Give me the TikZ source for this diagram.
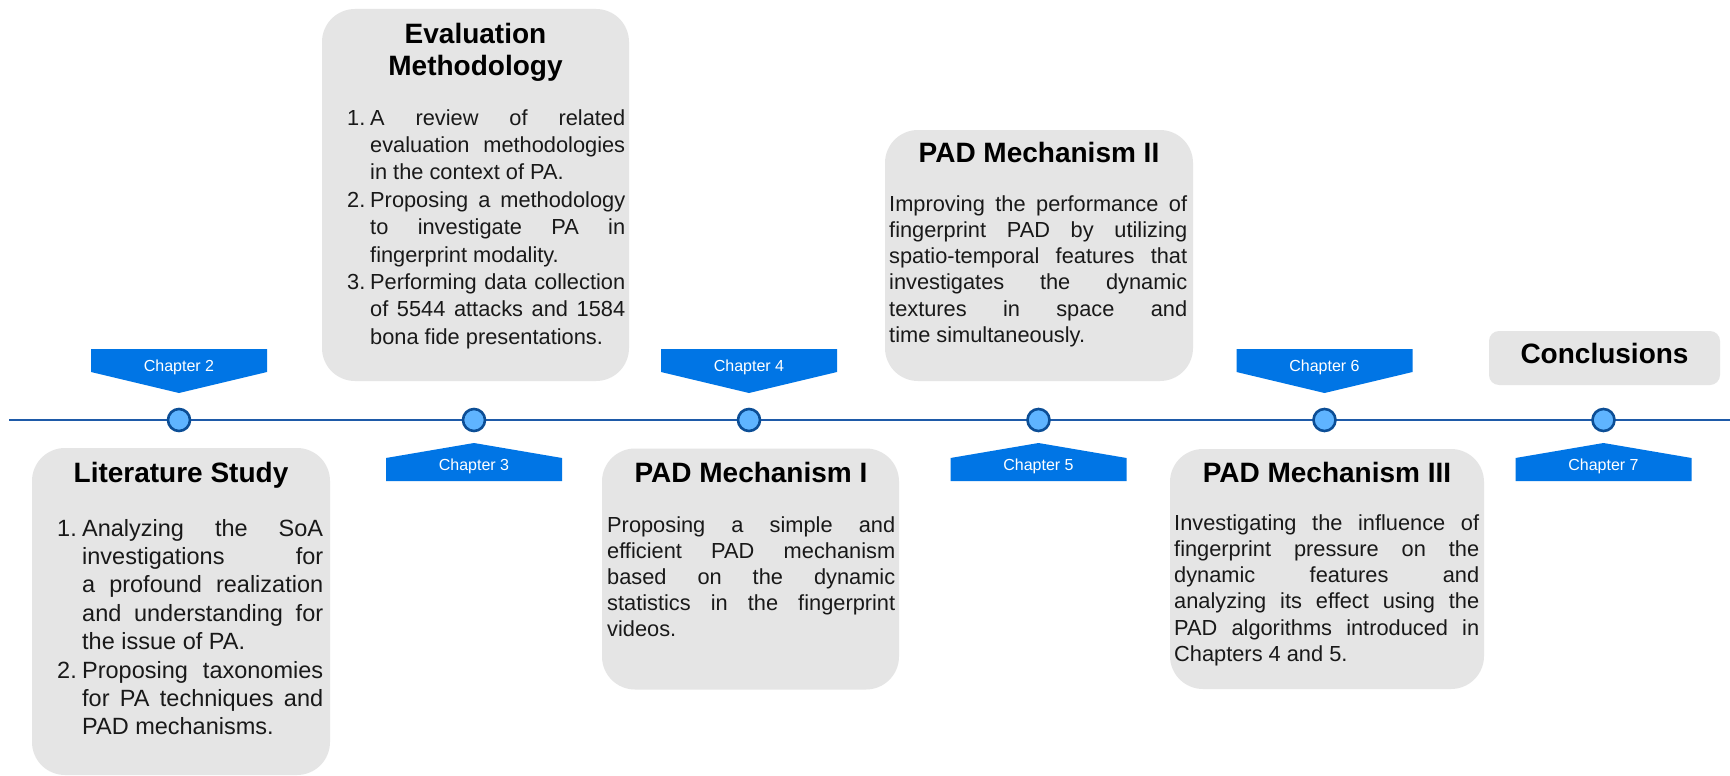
\documentclass[tikz,border=0pt]{standalone}
\usepackage{fontspec}
\setmainfont{Liberation Sans}

\definecolor{cardgray}{RGB}{229,229,229}
\definecolor{tagblue}{RGB}{0,117,229}
\definecolor{dotfill}{RGB}{95,180,255}
\definecolor{dotedge}{RGB}{12,78,150}
\definecolor{axisblue}{RGB}{30,90,168}
\definecolor{bodytext}{RGB}{25,25,25}

% text helpers
\newcommand\bodysize[2]{\fontsize{#1}{#2}\selectfont}
\newcommand\justsetup{\tolerance=10000\hbadness=10000\hyphenpenalty=10000\exhyphenpenalty=10000\frenchspacing\parindent=0pt\parskip=0pt}
\newcommand\itemlabel[2]{\noindent\llap{\makebox[#1][l]{#2}}}

\tikzset{
  card/.style={fill=cardgray, draw=none, rounded corners=33pt, inner sep=0pt},
  smallcard/.style={card, rounded corners=10pt},
  heading/.style={font=\bfseries\fontsize{28}{32}\selectfont, text=black, inner sep=0pt, anchor=base},
  body/.style={inner sep=0pt, anchor=base west, text=bodytext},
  dot/.style={circle, fill=dotfill, draw=dotedge, line width=2.6pt, minimum size=22pt, inner sep=0pt},
  taglabel/.style={text=white, font=\fontsize{16}{19}\selectfont, inner sep=0pt, anchor=base},
  axis/.style={draw=axisblue, line width=2pt},
  downtag/.pic={
    \fill[tagblue] (-88,-71) -- (88,-71) -- (88,-48) -- (0,-27) -- (-88,-48) -- cycle;
    \node[taglabel] (-text) at (0,-49) {#1};
  },
  uptag/.pic={
    \fill[tagblue] (0,23) -- (88,38) -- (88,61) -- (-88,61) -- (-88,38) -- cycle;
    \node[taglabel] (-text) at (0,50) {#1};
  },
}

\begin{document}
\begin{tikzpicture}[x=1pt, y=-1pt]
\useasboundingbox (0,0) rectangle (1730,776);
\fill[white] (0,0) rectangle (1730,776);

% cards
\node[card, minimum width=298pt, minimum height=327pt] (lit) at (181,611.5) {};
\node[card, minimum width=307pt, minimum height=372pt] (eval) at (475.5,195) {};
\node[card, minimum width=297pt, minimum height=241pt] (pad1) at (750.5,569) {};
\node[card, minimum width=308pt, minimum height=251pt] (pad2) at (1039,255.5) {};
\node[card, minimum width=314pt, minimum height=240pt] (pad3) at (1327,569) {};
\node[smallcard, minimum width=231pt, minimum height=54pt] (concl) at (1604.5,358) {};

% timeline
\coordinate (axis-start) at (9,420);
\coordinate (axis-end) at (1730,420);
\draw[axis] (axis-start) -- (axis-end);

\node[dot] (d2) at (179,420) {};
\node[dot] (d3) at (474,420) {};
\node[dot] (d4) at (749,420) {};
\node[dot] (d5) at (1038.5,420) {};
\node[dot] (d6) at (1324.5,420) {};
\node[dot] (d7) at (1603.5,420) {};

% chapter tags
\pic (t2) at (d2.center) {downtag={Chapter 2}};
\pic (t3) at (d3.center) {uptag={Chapter 3}};
\pic (t4) at (d4.center) {downtag={Chapter 4}};
\pic (t5) at (d5.center) {uptag={Chapter 5}};
\pic (t6) at (d6.center) {downtag={Chapter 6}};
\pic (t7) at (d7.center) {uptag={Chapter 7}};

% headings
\node[heading] (lit-title) at (181,482) {Literature Study};
\node[heading] (eval-title) at (475.5,44) {\parbox[t]{300pt}{\centering\bfseries\fontsize{28}{32}\selectfont Evaluation\\Methodology}};
\node[heading] (pad1-title) at (751,482) {PAD Mechanism I};
\node[heading] (pad2-title) at (1039,162) {PAD Mechanism II};
\node[heading] (pad3-title) at (1327,482) {PAD Mechanism III};
\node[heading] (concl-title) at (1604.5,363.5) {Conclusions};

% body texts
\node[body] (lit-text) at (57,536) {\parbox[t]{266pt}{\bodysize{23.5}{28.4}\justsetup\leftskip=25pt
\itemlabel{25pt}{1.}Analyzing the SoA\linebreak investigations for\linebreak a profound realization\linebreak and understanding for\linebreak the issue of PA.\par
\itemlabel{25pt}{2.}Proposing taxonomies\linebreak for PA techniques and\linebreak PAD mechanisms.\par}};

\node[body] (eval-text) at (347,125) {\parbox[t]{278pt}{\bodysize{21.8}{27.4}\justsetup\leftskip=23pt
\itemlabel{23pt}{1.}A review of related\linebreak evaluation methodologies\linebreak in the context of PA.\par
\itemlabel{23pt}{2.}Proposing a methodology\linebreak to investigate PA in\linebreak fingerprint modality.\par
\itemlabel{23pt}{3.}Performing data collection\linebreak of 5544 attacks and 1584\linebreak bona fide presentations.\par}};

\node[body] (pad1-text) at (607,532) {\parbox[t]{288pt}{\bodysize{21.8}{26.1}\justsetup
Proposing a simple and\linebreak efficient PAD mechanism\linebreak based on the dynamic\linebreak statistics in the fingerprint\linebreak videos.}};

\node[body] (pad2-text) at (889,211) {\parbox[t]{298pt}{\bodysize{21.8}{26.3}\justsetup
Improving the performance of\linebreak fingerprint PAD by utilizing\linebreak spatio-temporal features that\linebreak investigates the dynamic\linebreak textures in space and\linebreak time simultaneously.}};

\node[body] (pad3-text) at (1174,530) {\parbox[t]{305pt}{\bodysize{21.8}{26.3}\justsetup
Investigating the influence of\linebreak fingerprint pressure on the\linebreak dynamic features and\linebreak analyzing its effect using the\linebreak PAD algorithms introduced in\linebreak Chapters 4 and 5.}};
\end{tikzpicture}
\end{document}
